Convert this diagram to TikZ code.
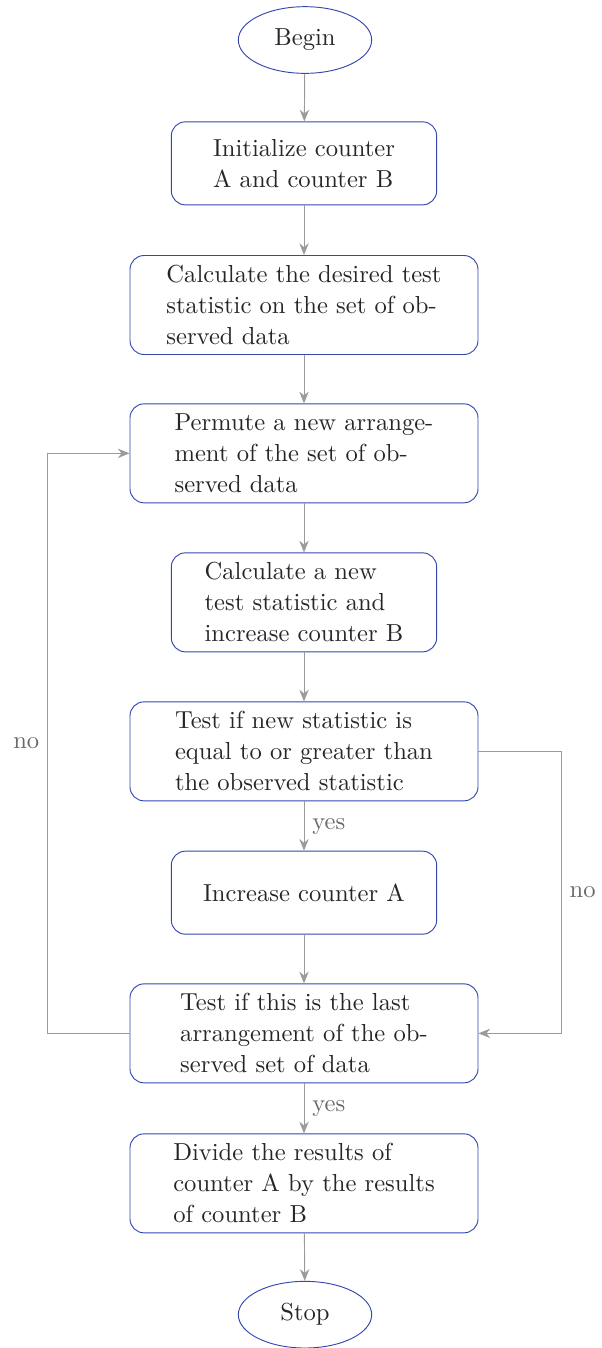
\documentclass[tikz,border=0pt]{standalone}
\usetikzlibrary{shapes.geometric,arrows.meta}
\definecolor{boxblue}{RGB}{52,72,175}
\definecolor{flowgray}{RGB}{155,155,155}
\definecolor{labelgray}{RGB}{105,105,105}

\begin{document}
\begin{tikzpicture}
  \tikzstyle{every node}=[font=\fontsize{10.5}{13.2}\selectfont,text=black!85]
  \tikzstyle{terminal}=[draw=boxblue,ellipse,minimum width=2cm,minimum height=1cm,inner sep=0pt]
  \tikzstyle{process}=[draw=boxblue,rounded corners=6pt,align=left,minimum width=3.98cm,minimum height=1.245cm]
  \tikzstyle{wideprocess}=[process,minimum width=5.22cm,minimum height=1.485cm]
  \tikzstyle{flow}=[draw=flowgray,-{Stealth[length=5pt,width=4pt]}]
  \tikzstyle{answer}=[text=labelgray]

  \useasboundingbox (0,0) rectangle (9.03,-20.22);

  % Define the steps
  \node[terminal] (begin) at (4.575,-0.6) {Begin};
  \node[process] (init) at (4.56,-2.45) {Initialize counter\\A and counter B};
  \node[wideprocess] (calcobs) at (4.56,-4.575) {Calculate the desired test\\statistic on the set of ob-\\served data};
  \node[wideprocess] (permute) at (4.56,-6.8) {Permute a new arrange-\\ment of the set of ob-\\served data};
  \node[process,minimum height=1.485cm] (calcnew) at (4.56,-9.035) {Calculate a new\\test statistic and\\increase counter B};
  \node[wideprocess] (testeq) at (4.56,-11.27) {Test if new statistic is\\equal to or greater than\\the observed statistic};
  \node[process] (incA) at (4.56,-13.39) {Increase counter A};
  \node[wideprocess] (testlast) at (4.56,-15.5) {Test if this is the last\\arrangement of the ob-\\served set of data};
  \node[wideprocess] (divide) at (4.56,-17.75) {Divide the results of\\counter A by the results\\of counter B};
  \node[terminal] (stop) at (4.575,-19.72) {Stop};

  % Draw the straight arrows
  \foreach \a/\b in {begin/init, init/calcobs, calcobs/permute, permute/calcnew, calcnew/testeq, incA/testlast, divide/stop} {
    \draw[flow] (\a) -- (\b);
  }

  % Draw the yes arrows
  \draw[flow] (testeq) -- node[answer,right] {yes} (incA);
  \draw[flow] (testlast) -- node[answer,right] {yes} (divide);

  % Draw the no loops
  \draw[flow] (testeq.east) -- ++(1.245,0) |- node[answer,right,pos=0.25] {no} (testlast.east);
  \draw[flow] (testlast.west) -- ++(-1.23,0) |- node[answer,left,pos=0.25] {no} (permute.west);
\end{tikzpicture}
\end{document}
